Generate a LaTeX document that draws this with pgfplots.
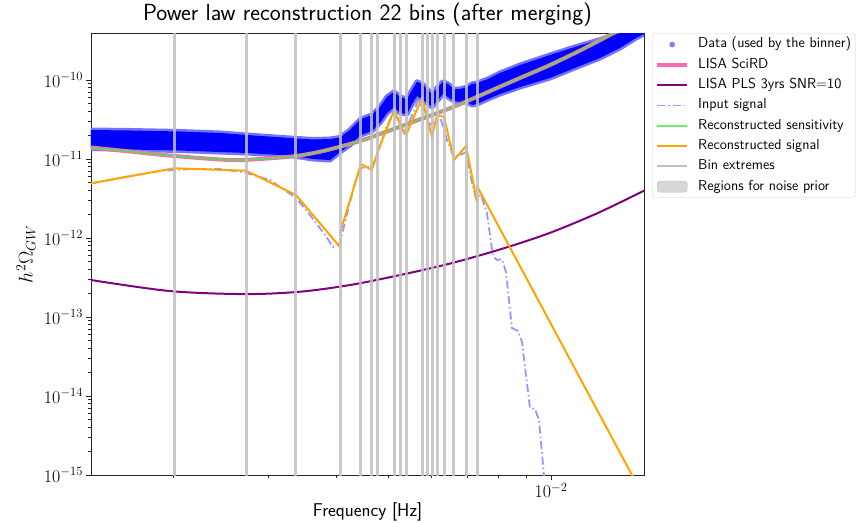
\RequirePackage{fix-cm}
\documentclass[border=0pt]{standalone}
\usepackage{fontspec}
\usepackage{pgfplots}
\pgfplotsset{compat=1.18}
\definecolor{hotpink}{RGB}{255,105,180}
\definecolor{mplpurple}{RGB}{128,0,128}
\definecolor{mplorange}{RGB}{255,165,0}
\definecolor{inputblue}{RGB}{150,150,255}
\definecolor{recgreen}{RGB}{110,205,95}
\definecolor{leggreen}{RGB}{110,235,110}
\definecolor{bingray}{RGB}{192,192,192}
\definecolor{legdot}{RGB}{128,128,255}
\definecolor{regfill}{RGB}{215,215,215}
\definecolor{regdraw}{RGB}{195,195,195}
\begin{document}
\begin{tikzpicture}[x=1bp,y=1bp]
\useasboundingbox (-91,-48) rectangle (775,475);
\begin{axis}[
  at={(0,0)}, anchor=south west,
  scale only axis, width=553bp, height=441.5bp,
  xmode=log, ymode=log,
  xmin=1.406e-3, xmax=1.487e-2, ymin=1e-15, ymax=3.88e-10,
  unbounded coords=jump,
  axis line style={black!85, line width=0.8bp},
  tick align=outside, tick pos=left,
  major tick length=4.5bp, minor tick length=2.6bp,
  every tick/.style={black!85, line width=0.8bp},
  xtick={1e-2},
  minor xtick={2e-3,3e-3,4e-3,5e-3,6e-3,7e-3,8e-3,9e-3},
  ytick={1e-15,1e-14,1e-13,1e-12,1e-11,1e-10},
  tick label style={font=\fontsize{18}{18}\selectfont},
  xlabel={Frequency [Hz]},
  xlabel style={at={(axis description cs:0.5,0)}, anchor=base, yshift=-41bp, inner sep=0pt, font=\sffamily\fontsize{18.6}{21}\selectfont},
  ylabel={$h^2\Omega_{GW}$},
  ylabel style={at={(axis description cs:-0.1175,0.5)}, anchor=center, font=\fontsize{20}{22}\selectfont},
  title={Power law reconstruction 22 bins (after merging)},
  title style={at={(axis description cs:0.5,1)}, anchor=base, yshift=7.5bp, inner sep=0pt, font=\sffamily\fontsize{23.4}{26}\selectfont},
  legend style={at={(axis description cs:1.0145,1.0)}, anchor=north west,
    draw=black!18, rounded corners=2.5bp, fill=white,
    font=\sffamily\fontsize{14.5}{16}\selectfont,
    inner xsep=3bp, inner ysep=3bp, row sep=4.6bp, column sep=8bp,
    nodes={text height=10.2bp, text depth=3.5bp, inner sep=1bp}},
  legend cell align=left,
]
% Data band (dense scatter)
\addplot[draw=blue!55, line width=5bp, line join=round, fill=blue!55, forget plot] coordinates {
(1.406e-3,2.329e-11) (1.661e-3,2.296e-11) (2.056e-3,2.230e-11) (2.438e-3,2.134e-11) (2.735e-3,2.013e-11) (3.286e-3,1.844e-11) (3.625e-3,1.765e-11) (3.898e-3,1.791e-11) (4.067e-3,1.872e-11) (4.244e-3,2.329e-11) (4.446e-3,3.208e-11) (4.660e-3,3.606e-11) (4.822e-3,4.551e-11) (4.968e-3,6.093e-11) (5.122e-3,7.110e-11) (5.255e-3,6.093e-11) (5.413e-3,5.748e-11) (5.530e-3,7.471e-11) (5.649e-3,9.52e-11) (5.770e-3,8.90e-11) (6.021e-3,6.65e-11) (6.151e-3,7.92e-11) (6.310e-3,9.52e-11) (6.446e-3,8.90e-11) (6.613e-3,7.69e-11) (6.785e-3,7.69e-11) (6.989e-3,8.15e-11) (7.140e-3,8.90e-11) (7.295e-3,9.16e-11) (7.644e-3,1.030e-10) (8.043e-3,1.226e-10) (8.764e-3,1.548e-10) (9.957e-3,2.072e-10) (1.107e-2,2.616e-10) (1.232e-2,3.237e-10) (1.342e-2,3.935e-10) (1.437e-2,4.69e-10) (1.487e-2,5.12e-10)
(1.487e-2,3.82e-10) (1.437e-2,3.40e-10) (1.342e-2,2.542e-10) (1.232e-2,1.899e-10) (1.107e-2,1.419e-10) (9.957e-3,1.060e-10) (8.764e-3,8.15e-11) (8.043e-3,6.65e-11) (7.644e-3,5.748e-11) (7.295e-3,4.97e-11) (7.140e-3,4.83e-11) (6.989e-3,5.27e-11) (6.785e-3,5.27e-11) (6.613e-3,5.42e-11) (6.446e-3,6.093e-11) (6.310e-3,6.65e-11) (6.151e-3,5.42e-11) (6.021e-3,4.551e-11) (5.770e-3,5.748e-11) (5.649e-3,6.274e-11) (5.530e-3,4.970e-11) (5.413e-3,3.712e-11) (5.255e-3,3.822e-11) (5.122e-3,4.551e-11) (4.968e-3,3.822e-11) (4.822e-3,2.856e-11) (4.660e-3,2.262e-11) (4.446e-3,2.013e-11) (4.244e-3,1.504e-11) (4.067e-3,1.226e-11) (3.898e-3,9.71e-12) (3.625e-3,1.0e-11) (3.286e-3,1.107e-11) (2.735e-3,1.191e-11) (2.438e-3,1.226e-11) (2.056e-3,1.281e-11) (1.661e-3,1.319e-11) (1.406e-3,1.358e-11)
} -- cycle;
\addplot[draw=none, fill=blue, forget plot] coordinates {
(1.406e-3,2.329e-11) (1.661e-3,2.296e-11) (2.056e-3,2.230e-11) (2.438e-3,2.134e-11) (2.735e-3,2.013e-11) (3.286e-3,1.844e-11) (3.625e-3,1.765e-11) (3.898e-3,1.791e-11) (4.067e-3,1.872e-11) (4.244e-3,2.329e-11) (4.446e-3,3.208e-11) (4.660e-3,3.606e-11) (4.822e-3,4.551e-11) (4.968e-3,6.093e-11) (5.122e-3,7.110e-11) (5.255e-3,6.093e-11) (5.413e-3,5.748e-11) (5.530e-3,7.471e-11) (5.649e-3,9.52e-11) (5.770e-3,8.90e-11) (6.021e-3,6.65e-11) (6.151e-3,7.92e-11) (6.310e-3,9.52e-11) (6.446e-3,8.90e-11) (6.613e-3,7.69e-11) (6.785e-3,7.69e-11) (6.989e-3,8.15e-11) (7.140e-3,8.90e-11) (7.295e-3,9.16e-11) (7.644e-3,1.030e-10) (8.043e-3,1.226e-10) (8.764e-3,1.548e-10) (9.957e-3,2.072e-10) (1.107e-2,2.616e-10) (1.232e-2,3.237e-10) (1.342e-2,3.935e-10) (1.437e-2,4.69e-10) (1.487e-2,5.12e-10)
(1.487e-2,3.82e-10) (1.437e-2,3.40e-10) (1.342e-2,2.542e-10) (1.232e-2,1.899e-10) (1.107e-2,1.419e-10) (9.957e-3,1.060e-10) (8.764e-3,8.15e-11) (8.043e-3,6.65e-11) (7.644e-3,5.748e-11) (7.295e-3,4.97e-11) (7.140e-3,4.83e-11) (6.989e-3,5.27e-11) (6.785e-3,5.27e-11) (6.613e-3,5.42e-11) (6.446e-3,6.093e-11) (6.310e-3,6.65e-11) (6.151e-3,5.42e-11) (6.021e-3,4.551e-11) (5.770e-3,5.748e-11) (5.649e-3,6.274e-11) (5.530e-3,4.970e-11) (5.413e-3,3.712e-11) (5.255e-3,3.822e-11) (5.122e-3,4.551e-11) (4.968e-3,3.822e-11) (4.822e-3,2.856e-11) (4.660e-3,2.262e-11) (4.446e-3,2.013e-11) (4.244e-3,1.504e-11) (4.067e-3,1.226e-11) (3.898e-3,9.71e-12) (3.625e-3,1.0e-11) (3.286e-3,1.107e-11) (2.735e-3,1.191e-11) (2.438e-3,1.226e-11) (2.056e-3,1.281e-11) (1.661e-3,1.319e-11) (1.406e-3,1.358e-11)
} -- cycle;
% LISA SciRD
\addplot[hotpink, line width=4bp, smooth, forget plot] coordinates {
(1.406e-3,1.398e-11) (1.661e-3,1.244e-11) (2.012e-3,1.091e-11) (2.544e-3,9.71e-12) (2.892e-3,1.0e-11) (3.371e-3,1.091e-11) (3.734e-3,1.237e-11) (4.067e-3,1.431e-11) (4.429e-3,1.690e-11) (4.822e-3,2.073e-11) (5.255e-3,2.565e-11) (5.845e-3,3.352e-11) (6.501e-3,4.384e-11) (7.233e-3,5.968e-11) (8.043e-3,8.226e-11) (8.952e-3,1.130e-10) (9.957e-3,1.548e-10) (1.132e-2,2.362e-10) (1.302e-2,3.88e-10) (1.487e-2,6.27e-10)
};
% LISA PLS
\addplot[mplpurple, line width=2bp, smooth, forget plot] coordinates {
(1.406e-3,2.94e-13) (1.970e-3,2.13e-13) (2.713e-3,1.95e-13) (3.43e-3,2.09e-13) (4.243e-3,2.54e-13) (5.255e-3,3.40e-13) (6.501e-3,4.75e-13) (8.043e-3,7.16e-13) (9.90e-3,1.146e-12) (1.218e-2,2.056e-12) (1.487e-2,3.97e-12)
};
% Input signal
\addplot[inputblue, line width=1.8bp, dash pattern=on 8bp off 3bp on 1.5bp off 3bp, forget plot] coordinates {
(1.406e-3,4.897e-12) (1.661e-3,6.093e-12) (1.887e-3,7.05e-12) (2.145e-3,7.47e-12) (2.438e-3,7.47e-12) (2.713e-3,6.75e-12) (3.017e-3,5.42e-12) (3.371e-3,3.208e-12) (3.579e-3,1.955e-12) (3.816e-3,1.092e-12) (3.948e-3,7.69e-13) (4.067e-3,8.64e-13) (4.155e-3,1.594e-12) (4.335e-3,4.969e-12) (4.446e-3,7.69e-12) (4.583e-3,7.92e-12) (4.660e-3,7.69e-12) (4.781e-3,1.226e-11) (4.948e-3,2.47e-11) (5.099e-3,3.712e-11) (5.209e-3,3.208e-11) (5.344e-3,2.134e-11) (5.482e-3,3.116e-11) (5.672e-3,5.42e-11) (5.819e-3,4.295e-11) (5.970e-3,2.694e-11) (6.124e-3,3.208e-11) (6.257e-3,3.116e-11) (6.419e-3,1.740e-11) (6.613e-3,1.060e-11) (6.785e-3,1.124e-11) (6.960e-3,1.226e-11) (7.110e-3,5.748e-12) (7.262e-3,3.208e-12) (7.419e-3,3.503e-12) (7.611e-3,2.073e-12) (7.807e-3,5.92e-13) (7.943e-3,5.27e-13) (8.115e-3,5.42e-13) (8.254e-3,3.712e-13) (8.467e-3,7.26e-14) (8.687e-3,6.65e-14) (8.837e-3,4.83e-14) (9.145e-3,7.05e-15) (9.341e-3,6.84e-15) (9.502e-3,4.97e-15) (9.705e-3,1e-15) (9.83e-3,5.58e-16)
};
% Reconstructed sensitivity
\addplot[recgreen, line width=2bp, smooth, forget plot] coordinates {
(1.406e-3,1.398e-11) (1.661e-3,1.244e-11) (2.012e-3,1.091e-11) (2.544e-3,9.71e-12) (2.892e-3,1.0e-11) (3.371e-3,1.091e-11) (3.734e-3,1.237e-11) (4.067e-3,1.431e-11) (4.429e-3,1.690e-11) (4.822e-3,2.073e-11) (5.255e-3,2.565e-11) (5.845e-3,3.352e-11) (6.501e-3,4.384e-11) (7.233e-3,5.968e-11) (8.043e-3,8.226e-11) (8.952e-3,1.130e-10) (9.957e-3,1.548e-10) (1.132e-2,2.362e-10) (1.302e-2,3.88e-10) (1.487e-2,6.27e-10)
};
% Reconstructed signal
\addplot[mplorange, line width=2bp, forget plot] coordinates {
(1.406e-3,4.925e-12) (2.004e-3,7.63e-12) (2.724e-3,7.11e-12) (3.371e-3,3.503e-12) (4.067e-3,7.69e-13) (4.067e-3,nan) (4.067e-3,1.157e-12) (4.446e-3,8.64e-12) (4.660e-3,7.26e-12) (4.781e-3,1.263e-11) (5.122e-3,4.172e-11) (5.255e-3,2.694e-11) (5.390e-3,2.013e-11) (5.770e-3,5.92e-11) (6.021e-3,1.899e-11) (6.151e-3,3.606e-11) (6.338e-3,3.401e-11) (6.613e-3,9.71e-12) (6.962e-3,1.461e-11) (7.295e-3,2.856e-12) (7.295e-3,nan) (7.295e-3,4.551e-12) (1.4125e-2,1e-15) (1.462e-2,6.45e-16)
};
% Bin extremes
\addplot[bingray, opacity=0.85, line width=3bp, forget plot] coordinates {
(2.004e-3,1e-16) (2.004e-3,1e-9) (2.004e-3,nan)
(2.724e-3,1e-16) (2.724e-3,1e-9) (2.724e-3,nan)
(3.371e-3,1e-16) (3.371e-3,1e-9) (3.371e-3,nan)
(4.067e-3,1e-16) (4.067e-3,1e-9) (4.067e-3,nan)
(4.446e-3,1e-16) (4.446e-3,1e-9) (4.446e-3,nan)
(4.660e-3,1e-16) (4.660e-3,1e-9) (4.660e-3,nan)
(4.781e-3,1e-16) (4.781e-3,1e-9) (4.781e-3,nan)
(5.122e-3,1e-16) (5.122e-3,1e-9) (5.122e-3,nan)
(5.255e-3,1e-16) (5.255e-3,1e-9) (5.255e-3,nan)
(5.390e-3,1e-16) (5.390e-3,1e-9) (5.390e-3,nan)
(5.770e-3,1e-16) (5.770e-3,1e-9) (5.770e-3,nan)
(5.895e-3,1e-16) (5.895e-3,1e-9) (5.895e-3,nan)
(6.021e-3,1e-16) (6.021e-3,1e-9) (6.021e-3,nan)
(6.151e-3,1e-16) (6.151e-3,1e-9) (6.151e-3,nan)
(6.338e-3,1e-16) (6.338e-3,1e-9) (6.338e-3,nan)
(6.613e-3,1e-16) (6.613e-3,1e-9) (6.613e-3,nan)
(6.962e-3,1e-16) (6.962e-3,1e-9) (6.962e-3,nan)
(7.295e-3,1e-16) (7.295e-3,1e-9)
};
% Legend
\addlegendimage{legend image code/.code={\fill[legdot] (15bp,0bp) circle (2.6bp);}}
\addlegendentry{Data (used by the binner)}
\addlegendimage{legend image code/.code={\draw[hotpink, line width=4bp] (0bp,0bp) -- (30bp,0bp);}}
\addlegendentry{LISA SciRD}
\addlegendimage{legend image code/.code={\draw[mplpurple, line width=2bp] (0bp,0bp) -- (30bp,0bp);}}
\addlegendentry{LISA PLS 3yrs SNR=10}
\addlegendimage{legend image code/.code={\draw[inputblue, line width=1.8bp, dash pattern=on 8bp off 3bp on 1.5bp off 3bp] (0bp,0bp) -- (30bp,0bp);}}
\addlegendentry{Input signal}
\addlegendimage{legend image code/.code={\draw[leggreen, line width=2bp] (0bp,0bp) -- (30bp,0bp);}}
\addlegendentry{Reconstructed sensitivity}
\addlegendimage{legend image code/.code={\draw[mplorange, line width=2bp] (0bp,0bp) -- (30bp,0bp);}}
\addlegendentry{Reconstructed signal}
\addlegendimage{legend image code/.code={\draw[bingray, line width=2bp] (0bp,0bp) -- (30bp,0bp);}}
\addlegendentry{Bin extremes}
\addlegendimage{legend image code/.code={\filldraw[fill=regfill, draw=regdraw] (0bp,-5.5bp) rectangle (30bp,5.5bp);}}
\addlegendentry{Regions for noise prior}
\end{axis}
\end{tikzpicture}
\end{document}
